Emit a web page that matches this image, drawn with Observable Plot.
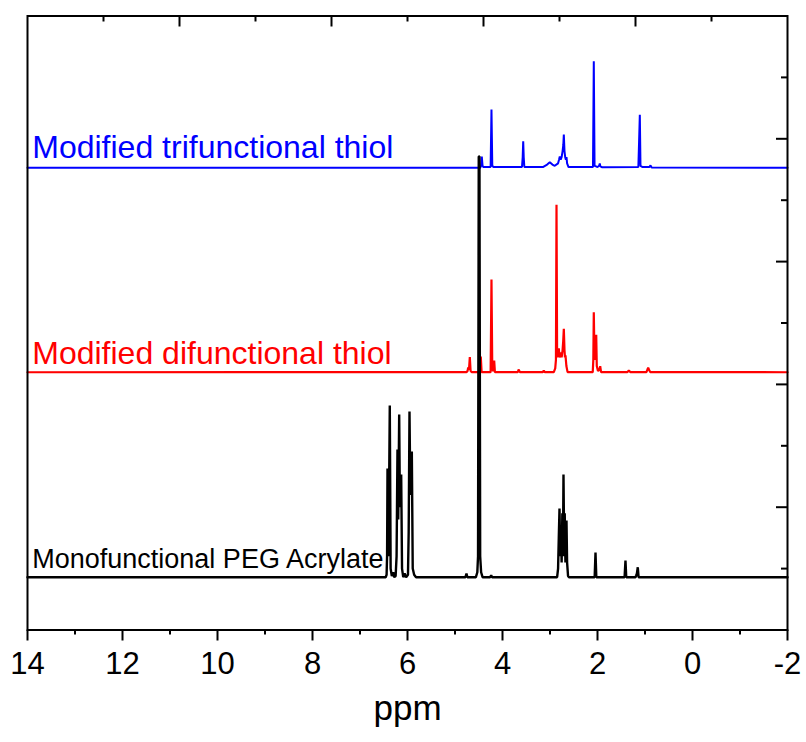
<!DOCTYPE html>
<html>
<head>
<meta charset="utf-8">
<script src="https://cdn.jsdelivr.net/npm/d3@7"></script>
<script src="https://cdn.jsdelivr.net/npm/@observablehq/plot@0.6"></script>
<style>
  html, body { margin: 0; padding: 0; background: #fff; }
  #chart { width: 806px; height: 742px; }
</style>
</head>
<body>
<div id="chart"></div>
<script>
// ---- Data ----
const seriesNames = ["Modified trifunctional thiol", "Modified difunctional thiol", "Monofunctional PEG Acrylate"];
const seriesColors = ["#0000ff", "#ff0000", "#000000"];
const labelX = [13.9, 13.9, 13.9];
const labelY = [3.84, 2.17, 0.505];
const labelSizes = [32, 32, 27];

const xMajorTicks = [14, 12, 10, 8, 6, 4, 2, 0, -2];
const xMinorTicks = [13, 11, 9, 7, 5, 3, 1, -1];
const topMajorTicks = [10.8, 7.6, 4.4, 1.2];
const topMinorTicks = [12.4, 9.2, 6.0, 2.8, -0.4];
const rightMajorTicks = [1, 2, 3, 4];
const rightMinorTicks = [0.5, 1.5, 2.5, 3.5, 4.5];

// [ppm, intensity (stacked offset included)]
const triSpectrum = [
  [14, 3.764], [4.47, 3.764],
  [4.45, 3.78], [4.436, 3.856], [4.42, 3.78], [4.40, 3.77],
  [4.25, 3.77], [4.232, 4.239], [4.215, 3.78], [4.19, 3.77],
  [3.59, 3.77], [3.575, 3.85], [3.564, 3.98], [3.553, 3.85], [3.54, 3.77],
  [3.15, 3.77], [3.06, 3.79], [3.004, 3.809], [2.95, 3.79], [2.90, 3.78],
  [2.83, 3.80], [2.81, 3.83], [2.794, 3.856], [2.775, 3.83], [2.755, 3.85], [2.735, 3.90], [2.72, 3.95],
  [2.709, 4.035], [2.695, 3.90], [2.68, 3.85], [2.665, 3.83], [2.653, 3.85], [2.64, 3.80], [2.61, 3.77],
  [2.095, 3.77], [2.078, 4.632], [2.062, 3.78], [2.03, 3.775], [2.0, 3.77],
  [1.965, 3.78], [1.952, 3.799], [1.94, 3.775], [1.9, 3.768],
  [1.14, 3.77], [1.125, 3.972], [1.109, 4.195], [1.095, 3.78], [1.05, 3.77],
  [0.91, 3.77], [0.884, 3.783], [0.86, 3.767],
  [-2, 3.764]
];

const diSpectrum = [
  [14, 2.099],
  [4.76, 2.10], [4.735, 2.11], [4.722, 2.138], [4.705, 2.12], [4.688, 2.222], [4.672, 2.11], [4.65, 2.10],
  [4.48, 2.10], [4.457, 2.227], [4.44, 2.10],
  [4.25, 2.10], [4.232, 2.854], [4.215, 2.12], [4.19, 2.11], [4.175, 2.195], [4.16, 2.10],
  [3.68, 2.10], [3.657, 2.121], [3.635, 2.10],
  [3.15, 2.10], [3.131, 2.113], [3.11, 2.10],
  [2.92, 2.10], [2.89, 2.13], [2.875, 2.20], [2.863, 3.463], [2.85, 2.22], [2.835, 2.25], [2.815, 2.293],
  [2.80, 2.22], [2.785, 2.24], [2.773, 2.26], [2.755, 2.22], [2.735, 2.28], [2.722, 2.35], [2.709, 2.453],
  [2.695, 2.28], [2.685, 2.22], [2.674, 2.236], [2.655, 2.15], [2.63, 2.10],
  [2.10, 2.10], [2.088, 2.20], [2.078, 2.588], [2.065, 2.25], [2.04, 2.20], [2.027, 2.404], [2.015, 2.15],
  [1.99, 2.11], [1.962, 2.12], [1.943, 2.148], [1.925, 2.10],
  [1.37, 2.10], [1.341, 2.113], [1.31, 2.10],
  [0.97, 2.10], [0.945, 2.125], [0.933, 2.135], [0.915, 2.12], [0.89, 2.10],
  [-2, 2.099]
];

const monoSpectrum = [
  [14, 0.43],
  [6.46, 0.43], [6.44, 0.45], [6.43, 0.60], [6.421, 1.315], [6.405, 0.60], [6.395, 0.80], [6.373, 1.828],
  [6.355, 0.50], [6.33, 0.44], [6.30, 0.47], [6.28, 0.43],
  [6.25, 0.44], [6.23, 0.60], [6.211, 1.47], [6.195, 0.90], [6.175, 1.755], [6.16, 1.00], [6.133, 1.266],
  [6.115, 0.50], [6.09, 0.43], [6.06, 0.46], [6.03, 0.43],
  [5.99, 0.45], [5.975, 0.80], [5.958, 1.779], [5.94, 1.10], [5.909, 1.454], [5.89, 0.50], [5.86, 0.45], [5.82, 0.43],
  [4.78, 0.43], [4.758, 0.46], [4.74, 0.43],
  [4.56, 0.43], [4.53, 0.47], [4.515, 0.60], [4.50, 3.856], [4.485, 3.856], [4.47, 0.60], [4.45, 0.47], [4.42, 0.43],
  [4.26, 0.43], [4.238, 0.445], [4.22, 0.43],
  [2.85, 0.43], [2.83, 0.50], [2.815, 0.75], [2.80, 0.989], [2.785, 0.60], [2.77, 0.85], [2.755, 0.55],
  [2.74, 0.95], [2.728, 0.60], [2.716, 1.266], [2.70, 0.60], [2.69, 0.95], [2.675, 0.55], [2.665, 0.85],
  [2.653, 0.892], [2.64, 0.55], [2.62, 0.44], [2.60, 0.43],
  [2.06, 0.43], [2.042, 0.631], [2.025, 0.43],
  [1.43, 0.43], [1.411, 0.566], [1.395, 0.43],
  [1.20, 0.43], [1.185, 0.444], [1.17, 0.46], [1.152, 0.511], [1.135, 0.43],
  [-2, 0.43]
];

const axisLabel = "ppm";

// ---- Chart ----
const W = 806, H = 742;
const mL = 27, mR = 19, mT = 15.5, mB = 112.5;
const frameW = W - mL - mR, frameH = H - mT - mB;
const font = "'Liberation Sans', Arial, Helvetica, sans-serif";

const labels = seriesNames.map((name, i) => ({name, x: labelX[i], y: labelY[i], color: seriesColors[i], size: labelSizes[i]}));

const chart = Plot.plot({
  width: W,
  height: H,
  marginLeft: mL,
  marginRight: mR,
  marginTop: mT,
  marginBottom: mB,
  style: {fontFamily: font, background: "#fff", color: "#000"},
  x: {domain: [14, -2], axis: null},
  y: {domain: [0, 5], axis: null},
  marks: [
    Plot.line(triSpectrum, {x: d => d[0], y: d => d[1], stroke: seriesColors[0], strokeWidth: 2, strokeLinejoin: "miter"}),
    Plot.line(diSpectrum, {x: d => d[0], y: d => d[1], stroke: seriesColors[1], strokeWidth: 2.2, strokeLinejoin: "miter"}),
    Plot.line(monoSpectrum, {x: d => d[0], y: d => d[1], stroke: seriesColors[2], strokeWidth: 2.4, strokeLinejoin: "miter"}),
    // series labels
    ...labels.map(l => Plot.text([l], {x: "x", y: "y", text: "name", fill: l.color, fontSize: l.size, textAnchor: "start", lineAnchor: "bottom"})),
    // frame
    Plot.frame({stroke: "#000", strokeWidth: 2}),
    // bottom axis (outward ticks)
    Plot.axisX({anchor: "bottom", ticks: xMajorTicks, tickSize: 11, tickPadding: 11, strokeWidth: 2, fontSize: 31, tickFormat: d => String(d), label: null}),
    Plot.axisX({anchor: "bottom", ticks: xMinorTicks, tickSize: 5, strokeWidth: 2, tickFormat: () => "", label: null}),
    // top ticks (inward)
    Plot.tickX(topMajorTicks, {x: d => d, stroke: "#000", strokeWidth: 2, insetBottom: frameH - 11}),
    Plot.tickX(topMinorTicks, {x: d => d, stroke: "#000", strokeWidth: 2, insetBottom: frameH - 6}),
    // right ticks (inward)
    Plot.tickY(rightMajorTicks, {y: d => d, stroke: "#000", strokeWidth: 2, insetLeft: frameW - 11}),
    Plot.tickY(rightMinorTicks, {y: d => d, stroke: "#000", strokeWidth: 2, insetLeft: frameW - 6}),
    // axis title
    Plot.text([axisLabel], {frameAnchor: "bottom", dy: 90, fontSize: 35, fill: "#000"})
  ]
});

document.getElementById("chart").appendChild(chart);
</script>
</body>
</html>
